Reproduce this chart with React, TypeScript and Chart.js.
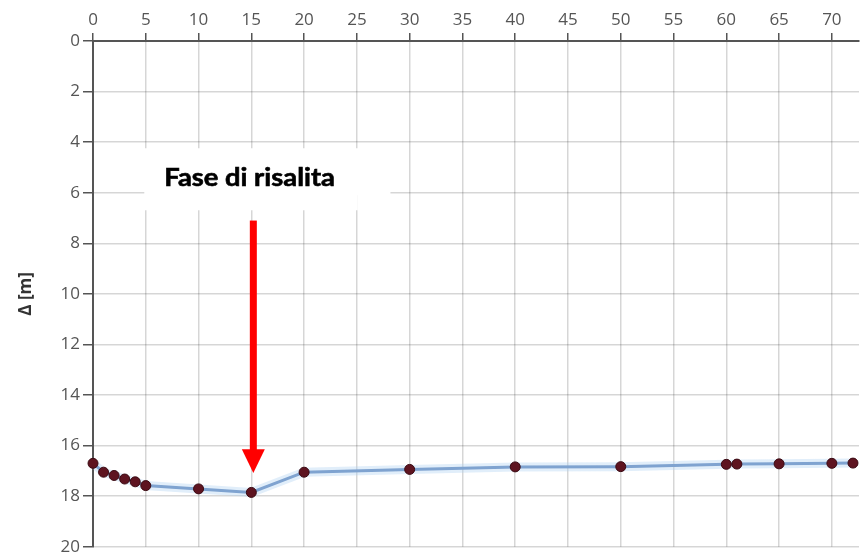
import React, { useEffect, useRef } from 'react';
import { Chart, registerables } from 'chart.js';

Chart.register(...registerables);

// Time (x) and drawdown Δ [m] (y)
const timeValues = [0, 1, 2, 3, 4, 5, 10, 15, 20, 30, 40, 50, 60, 61, 65, 70, 72];
const deltaValues = [16.7, 17.05, 17.18, 17.32, 17.43, 17.58, 17.71, 17.85, 17.05, 16.94, 16.84, 16.83, 16.74, 16.73, 16.72, 16.7, 16.69];

const xTickValues = [0, 5, 10, 15, 20, 25, 30, 35, 40, 45, 50, 55, 60, 65, 70];
const xTickStep = 5;
const yTickStep = 2;
const yTitle = 'Δ [m]';

// Annotation, in data units
const annotationText = 'Fase di risalita';
const boxX = [4.86, 28.18];
const boxY = [4.24, 6.69];
const boxNotch = [25.08, 6.1];
const textPos = [6.75, 5.72];
const textEndX = 22.92;
const arrowX = 15;
const arrowTopY = 7.1;
const arrowHeadY = 16.14;
const arrowTipY = 17.08;

const annotationPlugin = {
  id: 'risalita',
  afterDraw(chart: any) {
    const { ctx, scales } = chart;
    const xs = scales.x;
    const ys = scales.y;
    const px = (v: number) => xs.getPixelForValue(v);
    const py = (v: number) => ys.getPixelForValue(v);
    ctx.save();
    // white box
    ctx.fillStyle = '#ffffff';
    ctx.beginPath();
    ctx.moveTo(px(boxX[0]), py(boxY[0]));
    ctx.lineTo(px(boxX[1]), py(boxY[0]));
    ctx.lineTo(px(boxX[1]), py(boxNotch[1]));
    ctx.lineTo(px(boxNotch[0]), py(boxNotch[1]));
    ctx.lineTo(px(boxNotch[0]), py(boxY[1]));
    ctx.lineTo(px(boxX[0]), py(boxY[1]));
    ctx.closePath();
    ctx.fill();
    // text: 24px bold, squeezed horizontally to the measured width
    const targetW = px(textEndX) - px(textPos[0]);
    ctx.font = 'bold 24px Lato, "Open Sans", sans-serif';
    const w = ctx.measureText(annotationText).width;
    ctx.fillStyle = '#000000';
    ctx.textBaseline = 'alphabetic';
    ctx.textAlign = 'left';
    ctx.translate(px(textPos[0]), py(textPos[1]));
    ctx.scale(targetW / w, 1);
    ctx.fillText(annotationText, 0, 0);
    ctx.lineWidth = 0.6;
    ctx.strokeStyle = '#000000';
    ctx.strokeText(annotationText, 0, 0);
    ctx.setTransform(1, 0, 0, 1, 0, 0);
    // arrow
    const ax = px(arrowX) + 2;
    ctx.fillStyle = '#ff0000';
    ctx.fillRect(ax - 3.5, py(arrowTopY), 7, py(arrowHeadY) - py(arrowTopY) + 1);
    ctx.beginPath();
    ctx.moveTo(ax - 11.5, py(arrowHeadY));
    ctx.lineTo(ax + 11.5, py(arrowHeadY));
    ctx.lineTo(ax, py(arrowTipY));
    ctx.closePath();
    ctx.fill();
    ctx.restore();
  },
};

export default function App() {
  const canvasRef = useRef<HTMLCanvasElement | null>(null);

  useEffect(() => {
    const canvas = canvasRef.current;
    if (!canvas) return;
    const points = timeValues.map((x, i) => ({ x, y: deltaValues[i] }));
    const tickFont = { family: '"Open Sans", "DejaVu Sans", sans-serif', size: 17 };
    const chart = new Chart(canvas, {
      type: 'line',
      data: {
        datasets: [
          {
            data: points,
            borderColor: '#7fa3d0',
            borderWidth: 3,
            pointRadius: 5,
            pointBackgroundColor: '#5e1420',
            pointBorderColor: '#3a0a12',
            pointBorderWidth: 1,
            tension: 0,
            clip: false as any,
            order: 1,
          },
          {
            data: points,
            borderColor: 'rgba(170,205,240,0.35)',
            borderWidth: 9,
            pointRadius: 0,
            tension: 0,
            clip: false as any,
            order: 2,
          },
        ],
      },
      options: {
        responsive: false,
        animation: false,
        layout: { padding: { top: 0, left: 0, right: 0, bottom: 13 } },
        plugins: {
          legend: { display: false },
          tooltip: { enabled: false },
        },
        scales: {
          x: {
            type: 'linear',
            position: 'top',
            min: 0,
            max: 72.57,
            ticks: {
              stepSize: xTickStep,
              color: '#555555',
              font: tickFont,
              padding: 3,
              maxRotation: 0,
              autoSkip: false,
            },
            afterBuildTicks: (scale: any) => {
              scale.ticks = xTickValues.map((v) => ({ value: v }));
            },
            afterFit: (scale: any) => {
              scale.height = 41;
            },
            grid: {
              color: 'rgba(0,0,0,0.16)',
              lineWidth: 1.5,
              tickLength: 8,
              tickColor: '#555555',
            },
            border: { color: '#555555', width: 2 },
          },
          y: {
            type: 'linear',
            reverse: true,
            min: 0,
            max: 20,
            ticks: {
              stepSize: yTickStep,
              color: '#555555',
              font: tickFont,
              padding: 3,
            },
            afterFit: (scale: any) => {
              scale.width = 93;
            },
            grid: {
              color: 'rgba(0,0,0,0.16)',
              lineWidth: 1.5,
              tickLength: 10,
              tickColor: '#555555',
            },
            border: { color: '#555555', width: 2 },
            title: {
              display: true,
              text: yTitle,
              color: '#333333',
              font: { family: '"Open Sans", "DejaVu Sans", sans-serif', size: 17, weight: 'bold' },
              padding: { top: 16, bottom: 0 },
            },
          },
        },
      },
      plugins: [annotationPlugin],
    });
    return () => chart.destroy();
  }, []);

  return (
    <div style={{ position: 'fixed', left: 0, top: 0, width: 865, height: 560, background: '#ffffff' }}>
      <canvas ref={canvasRef} width={865} height={560} style={{ display: 'block' }} />
    </div>
  );
}
